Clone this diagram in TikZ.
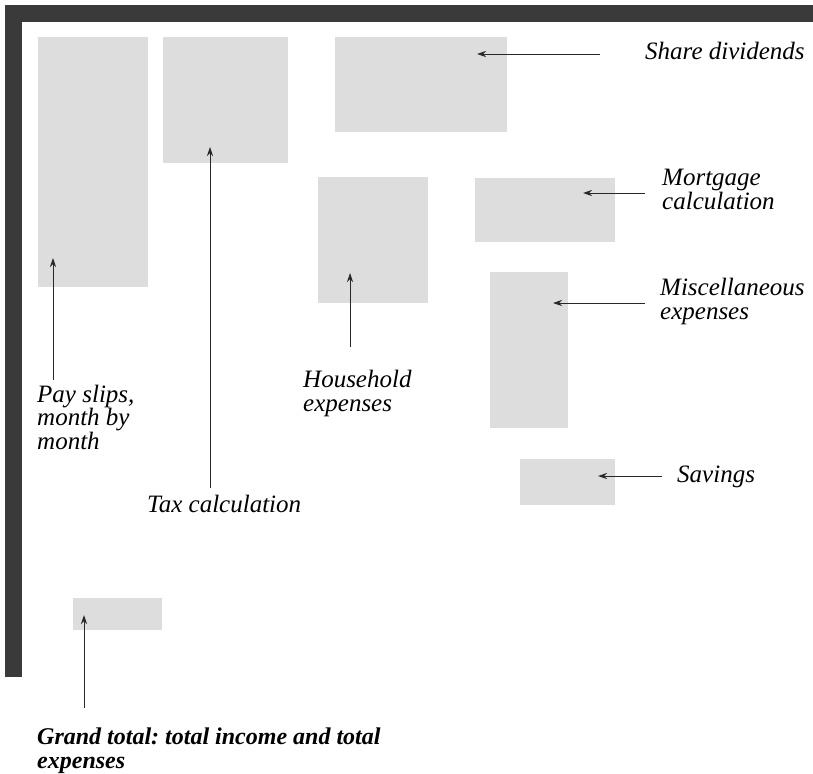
\documentclass[tikz,border=0pt]{standalone}
\usepackage{fontspec}
\setmainfont{Liberation Serif}
\usepackage{tikz}
\usetikzlibrary{arrows.meta}
\frenchspacing
\definecolor{sheetedge}{RGB}{58,58,58}
\definecolor{greyblock}{RGB}{221,221,221}
\definecolor{ink}{RGB}{40,40,40}
\tikzset{
  blk/.style={fill=greyblock, draw=none, inner sep=0pt},
  lbl/.style={font=\fontsize{25}{23.5}\selectfont\itshape, align=left, inner sep=0pt, anchor=base west, text=black},
  biglbl/.style={lbl, font=\fontsize{24}{23.5}\selectfont\bfseries\itshape},
  ptr/.style={-{Stealth[length=9pt,width=6pt]}, line width=0.8pt, draw=ink}
}

\begin{document}
\begin{tikzpicture}[x=1pt,y=-1pt]
  \useasboundingbox (0,0) rectangle (813,773);
  % edge of the sheet
  \fill[sheetedge] (5,5) rectangle (813,22);
  \fill[sheetedge] (5,5) rectangle (22,677);
  % grey text blocks
  \foreach \n/\cx/\cy/\w/\h in {pay/93/162/110/250, tax/225.5/100/125/126,
      share/421/84.5/172/95, house/373/240/110/126, mort/545/210/140/64,
      misc/529/350/78/156, sav/567.5/482/95/46, grand/117.5/614/89/32}
    \node[blk, minimum width=\w pt, minimum height=\h pt] (\n) at (\cx,\cy) {};
  % labels (base = last line)
  \node[lbl] (l-share) at (645,60) {Share dividends};
  \node[lbl] (l-mort) at (662,209) {Mortgage\\calculation};
  \node[lbl] (l-misc) at (660,319) {Miscellaneous\\expenses};
  \node[lbl] (l-sav) at (677,482) {Savings};
  \node[lbl] (l-house) at (303,411) {Household\\expenses};
  \node[lbl] (l-pay) at (37,449) {Pay slips,\\month by\\month};
  \node[lbl] (l-tax) at (147,512) {Tax calculation};
  \node[biglbl] (l-grand) at (37,768) {Grand total: total income and total\\expenses};
  % pointers: tail -- head
  \foreach \n/\tx/\ty/\hx/\hy in {share/600/54/477/54, mort/645/193/583/193,
      misc/645/303/553/303, sav/662/476/598/476, pay/53/380/53/258,
      tax/210/488/210/147, house/350/347/350/273, grand/84/708/84/615} {
    \coordinate (\n-t) at (\tx,\ty);
    \coordinate (\n-h) at (\hx,\hy);
    \draw[ptr] (\n-t) -- (\n-h);
  }
\end{tikzpicture}
\end{document}
